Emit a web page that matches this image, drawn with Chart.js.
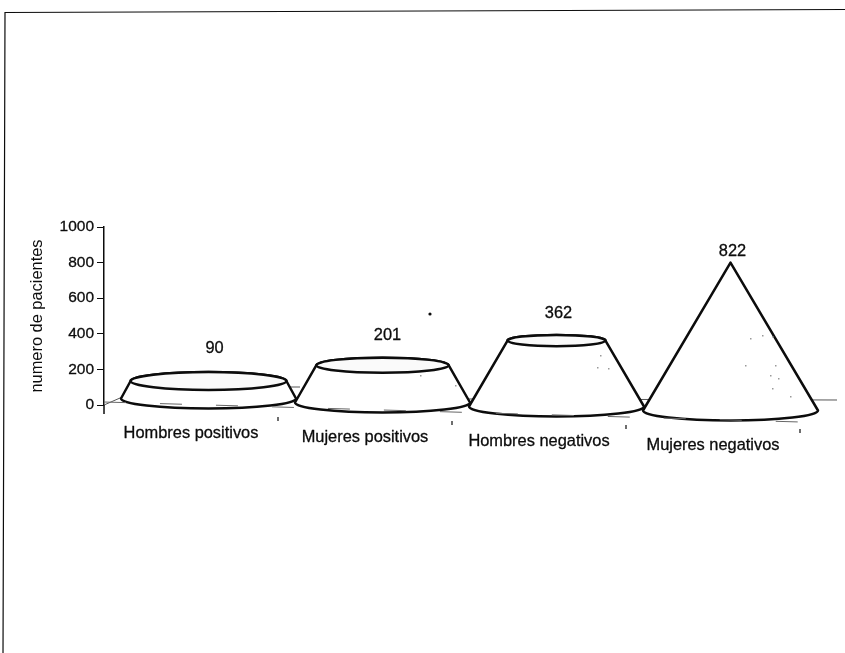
<!DOCTYPE html>
<html><head><meta charset="utf-8">
<script src="https://cdn.jsdelivr.net/npm/chart.js@4"></script>
<style>html,body{margin:0;padding:0;background:#fff}canvas{display:block}</style>
</head><body>
<canvas id="c" width="845" height="653"></canvas>
<script>
const categories = ["Hombres positivos","Mujeres positivos","Hombres negativos","Mujeres negativos"];
const patientCounts = [90,201,362,822];
const yTicks = [0,200,400,600,800,1000];
const yTitle = "numero de pacientes";

const INK = "#0c0c0c";
const FONT = '"Liberation Sans", Arial, sans-serif';
const DEPTH_DX = 17.5, BASE_DY = -6, TILT = 4, BASE_RY = 10, TOP_LIFT = 2;
const LABEL_DX = [6,5,2,2], LABEL_DY = [-32,-30,-27,-11];
const SPECKS = [[750,338],[762,335],[772,336],[745,365],[775,365],[770,375],[778,378],[772,388],[790,396],[600,355],[608,368],[597,367],[420,375],[455,385]];

const conePlugin = {
  id: "cones",
  afterDatasetsDraw(chart) {
    const ctx = chart.ctx, meta = chart.getDatasetMeta(0), xs = chart.scales.x, ys = chart.scales.y;
    const apexValue = Math.max(...patientCounts);
    const y0 = ys.getPixelForValue(0);
    ctx.save();
    // page frame
    ctx.strokeStyle = INK; ctx.lineWidth = 1.2;
    ctx.beginPath(); ctx.moveTo(3,653); ctx.lineTo(5,12.5); ctx.lineTo(845,9.5); ctx.stroke();
    // axis stem below zero and floor back edge
    ctx.lineWidth = 1.5;
    ctx.beginPath(); ctx.moveTo(xs.left,y0); ctx.lineTo(xs.left,y0+9); ctx.stroke();
    ctx.strokeStyle = "#555"; ctx.lineWidth = 1;
    ctx.beginPath(); ctx.moveTo(xs.left,y0); ctx.lineTo(xs.left+16,y0-7); ctx.lineTo(837,400); ctx.stroke();
    ctx.beginPath(); ctx.moveTo(290,387); ctx.lineTo(300,387); ctx.stroke();
    // cones
    meta.data.forEach((bar,i)=>{
      const cx = bar.x + DEPTH_DX, by = bar.base + BASE_DY + TILT*i, R = bar.width/2 + 0.5;
      const ty = bar.y + BASE_DY + TILT*i - TOP_LIFT;
      const f = 1 - patientCounts[i]/apexValue, r = R*f, ry = BASE_RY*f;
      ctx.beginPath();
      ctx.moveTo(cx-R,by);
      ctx.lineTo(cx-r,ty);
      if (r>0.5) ctx.ellipse(cx,ty,r,ry,0,Math.PI,0,false);
      ctx.lineTo(cx+R,by);
      ctx.ellipse(cx,by,R,BASE_RY,0,0,Math.PI,false);
      ctx.closePath();
      ctx.fillStyle="#fff"; ctx.fill();
      ctx.strokeStyle=INK; ctx.lineWidth=2.5; ctx.lineJoin="round"; ctx.stroke();
      if (r>0.5){ ctx.beginPath(); ctx.ellipse(cx,ty,r,ry,0,0,Math.PI*2); ctx.fillStyle="#fafafa"; ctx.fill(); ctx.stroke(); }
    });
    // scan specks
    ctx.fillStyle="#999";
    SPECKS.forEach(p=>ctx.fillRect(p[0],p[1],1.5,1.5));
    // front floor edge, broken
    ctx.strokeStyle="#666"; ctx.lineWidth=1; ctx.setLineDash([22,34]);
    ctx.beginPath(); ctx.moveTo(xs.left,402); ctx.lineTo(xs.right,422); ctx.stroke();
    ctx.setLineDash([]);
    // category tick marks
    ctx.strokeStyle=INK; ctx.lineWidth=1.2;
    for(let i=1;i<=categories.length;i++){
      const x = xs.left + i*xs.width/categories.length, y = y0 + 8 + TILT*i;
      ctx.beginPath(); ctx.moveTo(x,y); ctx.lineTo(x,y+4); ctx.stroke();
    }
    // speck
    ctx.fillStyle=INK; ctx.beginPath(); ctx.arc(430,314,1.6,0,Math.PI*2); ctx.fill();
    // text
    ctx.fillStyle=INK; ctx.strokeStyle=INK; ctx.lineWidth=0.3; ctx.textAlign="center"; ctx.textBaseline="middle"; ctx.font="16.4px "+FONT;
    meta.data.forEach((bar,i)=>{
      const vx = bar.x+DEPTH_DX+LABEL_DX[i], vy = bar.y+BASE_DY+TILT*i+LABEL_DY[i]-TOP_LIFT;
      ctx.fillText(String(patientCounts[i]), vx, vy);
      ctx.strokeText(String(patientCounts[i]), vx, vy);
      const lx = xs.getPixelForValue(i), ly = y0+28+TILT*i;
      ctx.fillText(categories[i], lx, ly);
      ctx.strokeText(categories[i], lx, ly);
    });
    ctx.restore();
  }
};

new Chart(document.getElementById("c"),{
  type:"bar",
  data:{labels:categories,datasets:[{data:patientCounts,backgroundColor:"rgba(0,0,0,0)",borderWidth:0,barPercentage:1,categoryPercentage:1}]},
  options:{
    responsive:false,animation:false,
    layout:{padding:{left:20,right:45,top:227,bottom:240}},
    plugins:{legend:{display:false},tooltip:{enabled:false}},
    scales:{
      x:{ticks:{display:false},grid:{display:false},border:{display:false}},
      y:{min:0,max:1000,
        afterBuildTicks(s){s.ticks=yTicks.map(v=>({value:v}));},
        afterFit(s){s.width=84;},
        ticks:{font:{family:FONT,size:15.5},color:INK,padding:3,textStrokeColor:INK,textStrokeWidth:0.3,callback:v=>String(v)},
        grid:{drawOnChartArea:false,tickLength:7,color:INK},
        border:{color:INK,width:1.5},
        title:{display:true,text:yTitle,font:{family:FONT,size:16.4},color:INK,padding:{top:8,bottom:0}}
      }
    }
  },
  plugins:[conePlugin]
});
</script>
</body></html>
